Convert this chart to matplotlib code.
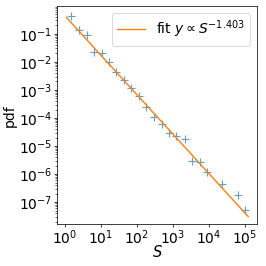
import numpy as np
import matplotlib.pyplot as plt
from matplotlib.ticker import LogLocator

# binned pdf (log10 values)
log_s = [0.17, 0.40, 0.61, 0.81, 1.04, 1.23, 1.43, 1.64, 1.85, 2.06, 2.26,
         2.47, 2.69, 2.89, 3.10, 3.33, 3.53, 3.75, 3.96, 4.37, 4.81, 5.01]
log_pdf = [-0.35, -0.88, -1.04, -1.65, -1.67, -2.02, -2.35, -2.66, -2.94,
           -3.23, -3.61, -3.95, -4.23, -4.52, -4.66, -4.75, -5.52, -5.57,
           -5.94, -6.34, -6.76, -7.28]

exponent = -1.403
fit_const = 10 ** -0.36
fit_s = 10 ** np.array([0.04, 5.1])

s = 10 ** np.array(log_s)
pdf = 10 ** np.array(log_pdf)

plt.rcParams["font.size"] = 15

fig = plt.figure(figsize=(4, 4), dpi=66.5)
ax = fig.add_subplot(111)
fig.subplots_adjust(left=0.2154, right=0.9673, bottom=0.1568, top=0.9774)

ax.plot(s, pdf, "+", color="tab:blue", alpha=0.7, markersize=9, markeredgewidth=1.2)
ax.plot(fit_s, fit_const * fit_s ** exponent, color="tab:orange", linewidth=1.5,
        label=r"fit $y \propto S^{%.3f}$" % exponent)

ax.set_xscale("log")
ax.set_yscale("log")
ax.set_ylim(10 ** -7.79, 10 ** -0.01)
ax.xaxis.set_major_locator(LogLocator(base=10, numticks=12))
ax.set_xlabel(r"$S$", fontsize=16, labelpad=-3)
ax.set_ylabel("pdf", labelpad=2)
ax.tick_params(labelsize=15, pad=2)
ax.tick_params(axis="x", pad=0.5)
ax.legend(loc="upper right", fontsize=15)

fig.savefig("out.png", dpi=66.5)
